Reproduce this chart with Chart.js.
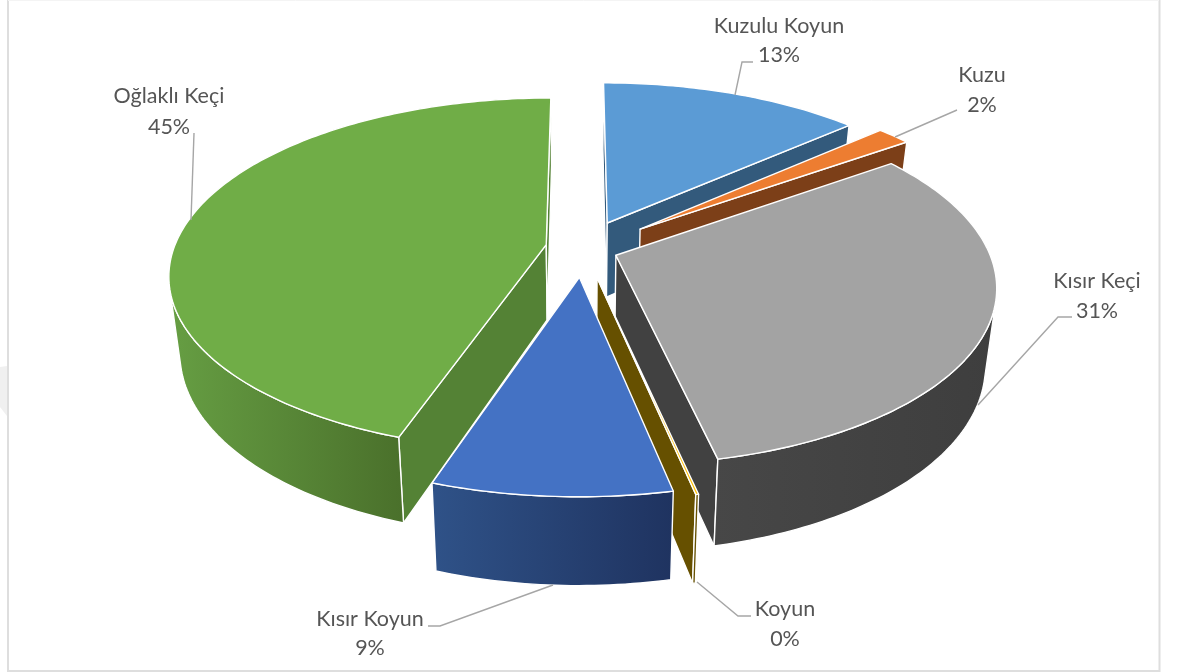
<!DOCTYPE html>
<html>
<head>
<meta charset="utf-8">
<style>html,body{margin:0;padding:0;background:#fff}canvas{display:block}</style>
<script src="https://cdn.jsdelivr.net/npm/chart.js@4/dist/chart.umd.js"></script>
</head>
<body>
<canvas id="c" width="1177" height="672"></canvas>
<script>
// ---- data ----
const categories = ['Kuzulu Koyun', 'Kuzu', 'Kısır Keçi', 'Koyun', 'Kısır Koyun', 'Oğlaklı Keçi'];
const shares = [13.45, 1.75, 31.4, 0.1, 8.5, 44.8];
const explode = [53, 60, 30, 60, 48, 26];
// ---- style ----
const topColors = ['#5b9bd5', '#ed7d31', '#a3a3a3', '#ffc000', '#4472c4', '#70ad47'];
const sideColors = ['#335a7c', '#7c3f18', '#414141', '#665000', '#2f5597', '#548235'];
const rimLeft = ['#335a7c', '#7c3f18', '#474747', '#665000', '#2f5288', '#669e43'];
const rimRight = ['#335a7c', '#7c3f18', '#3e3e3e', '#665000', '#1f3360', '#4a702b'];
const sliceShift = [[2, 1], [4, 1], [2, 0], [2, -6], [4, 0], [-1, -2]];
// label placement: [centre x, name y, pct y]; leader polyline
const labelSpots = [[779, 26, 55], [982, 75, 105], [1097, 281, 311], [785, 609, 639], [370, 619, 648], [169, 96, 127]];
const leaders = [
  [[753, 62], [742, 62], [735, 95]],
  [[957, 110], [895, 137]],
  [[1072, 317], [1058, 317], [978, 405]],
  [[751, 616], [738, 616], [697, 582]],
  [[428, 626], [440, 626], [553, 585]],
  [[194, 133], [191, 220]]
];
// ---- view model for the tilted pie ----
const view = { cx: 579, cy: 249, a: 372, b: 172, k: 0.168, shrinkX: 0.973, growY: 1.054, depth: 75.5 };
function project(u, v, s) {
  const w = 1 / (1 - view.k * v);
  return { x: view.cx + view.a * u * w + s[0], y: view.cy + view.b * v * w + s[1] };
}
function lower(p) {
  return {
    x: view.cx + (p.x - view.cx) * view.shrinkX,
    y: view.cy + (p.y - view.cy) * view.growY + view.depth
  };
}
function cross(ax, ay, bx, by) { return ax * by - ay * bx; }
function tracePoly(ctx, pts) {
  ctx.beginPath();
  pts.forEach((p, i) => i ? ctx.lineTo(p.x, p.y) : ctx.moveTo(p.x, p.y));
  ctx.closePath();
}
function paint(ctx, pts, fill) {
  tracePoly(ctx, pts);
  ctx.fillStyle = fill;
  ctx.fill();
  ctx.strokeStyle = '#ffffff';
  ctx.lineWidth = 1.4;
  ctx.lineJoin = 'round';
  ctx.stroke();
}
function drawSlice(ctx, el, i) {
  const start = el.startAngle, end = el.endAngle, mid = (start + end) / 2;
  const e = el.options.offset / el.outerRadius;
  const ou = e * Math.cos(mid), ov = e * Math.sin(mid);
  const s = sliceShift[i];
  const apex = project(ou, ov, s);
  const n = Math.max(2, Math.ceil((end - start) / (Math.PI / 180)));
  const rim = [];
  for (let j = 0; j <= n; j++) {
    const t = start + (end - start) * j / n;
    rim.push(project(ou + Math.cos(t), ov + Math.sin(t), s));
  }
  const inner = rim[Math.floor(n / 2)];
  // flat inner walls: only those that show below the top face
  [rim[0], rim[n]].forEach(r => {
    const bA = lower(apex), bR = lower(r);
    const sideDown = cross(r.x - apex.x, r.y - apex.y, bA.x - apex.x, bA.y - apex.y);
    const sideIn = cross(r.x - apex.x, r.y - apex.y, inner.x - apex.x, inner.y - apex.y);
    if (sideDown * sideIn < 0) paint(ctx, [apex, r, bR, bA], sideColors[i]);
  });
  // curved outer wall
  const vis = [];
  for (let j = 0; j < n; j++) {
    const p = rim[j], q = rim[j + 1], lp = lower(p);
    const d = cross(q.x - p.x, q.y - p.y, lp.x - p.x, lp.y - p.y);
    const c = cross(q.x - p.x, q.y - p.y, apex.x - p.x, apex.y - p.y);
    vis.push(d * c < 0);
  }
  let j = 0;
  while (j < n) {
    if (!vis[j]) { j++; continue; }
    let k = j;
    while (k < n && vis[k]) k++;
    const edge = rim.slice(j, k + 1);
    const poly = edge.concat(edge.map(lower).reverse());
    const xs = poly.map(p => p.x);
    const g = ctx.createLinearGradient(Math.min(...xs), 0, Math.max(...xs), 0);
    g.addColorStop(0, rimLeft[i]);
    g.addColorStop(1, rimRight[i]);
    paint(ctx, poly, g);
    j = k;
  }
  // top face
  paint(ctx, [apex].concat(rim), el.options.backgroundColor);
}
const tiltedPie = {
  id: 'tiltedPie',
  beforeDraw(chart) {
    const ctx = chart.ctx;
    ctx.save();
    ctx.fillStyle = '#ffffff';
    ctx.fillRect(0, 0, 1177, 672);
    ctx.fillStyle = '#f0f0f0';
    ctx.beginPath();
    ctx.moveTo(0, 367); ctx.lineTo(7, 366); ctx.lineTo(7, 416); ctx.lineTo(0, 407);
    ctx.closePath(); ctx.fill();
    ctx.strokeStyle = '#dedede';
    ctx.lineWidth = 2;
    ctx.beginPath();
    ctx.moveTo(8, 0); ctx.lineTo(8, 671); ctx.lineTo(1159.5, 671); ctx.lineTo(1159.5, 0);
    ctx.stroke();
    ctx.strokeStyle = '#f4f4f4';
    ctx.lineWidth = 1;
    ctx.beginPath(); ctx.moveTo(8, 0.5); ctx.lineTo(1159, 0.5); ctx.stroke();
    ctx.restore();
  },
  beforeDatasetDraw(chart, args) {
    const ctx = chart.ctx;
    ctx.save();
    chart.getDatasetMeta(args.index).data.forEach((el, i) => drawSlice(ctx, el, i));
    ctx.restore();
    return false;
  },
  afterDraw(chart) {
    const ctx = chart.ctx, total = shares.reduce((s, v) => s + v, 0);
    ctx.save();
    ctx.strokeStyle = '#a6a6a6';
    ctx.lineWidth = 1.4;
    leaders.forEach(line => {
      ctx.beginPath();
      line.forEach((p, i) => i ? ctx.lineTo(p[0], p[1]) : ctx.moveTo(p[0], p[1]));
      ctx.stroke();
    });
    ctx.fillStyle = '#555555';
    ctx.font = '21.5px Lato';
    ctx.textAlign = 'center';
    ctx.textBaseline = 'middle';
    categories.forEach((name, i) => {
      const s = labelSpots[i];
      ctx.fillText(name, s[0], s[1]);
      ctx.fillText(Math.round(shares[i] / total * 100) + '%', s[0], s[2]);
    });
    ctx.restore();
  }
};
new Chart(document.getElementById('c'), {
  type: 'pie',
  data: {
    labels: categories,
    datasets: [{ data: shares, backgroundColor: topColors, offset: explode, radius: 300, borderWidth: 0 }]
  },
  options: {
    responsive: false,
    animation: false,
    plugins: { legend: { display: false }, tooltip: { enabled: false } }
  },
  plugins: [tiltedPie]
});
</script>
</body>
</html>
